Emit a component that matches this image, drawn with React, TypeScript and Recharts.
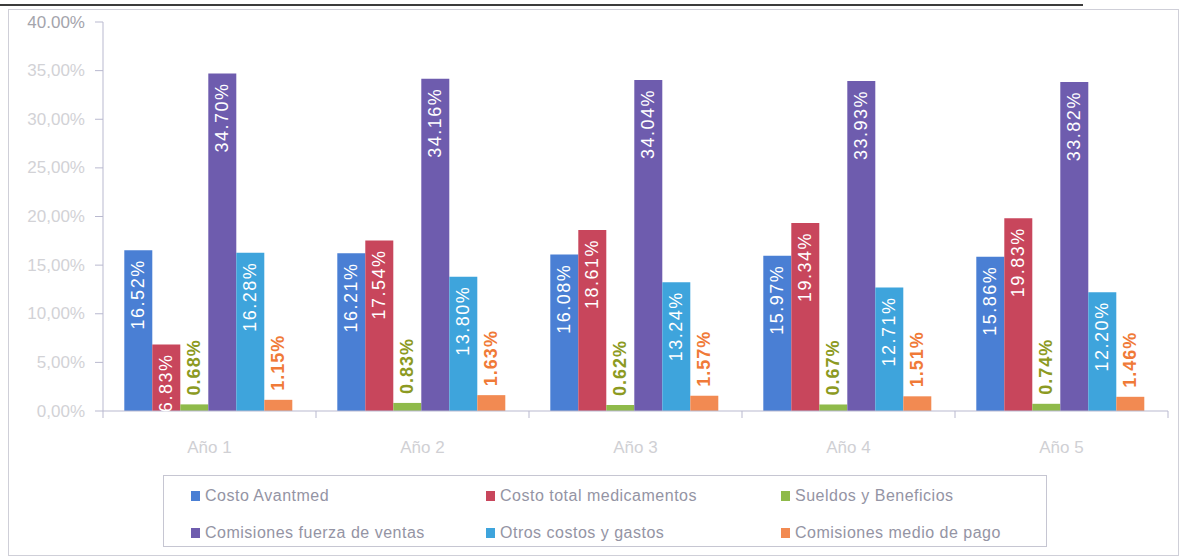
import React from "react";
import { Bar, BarChart, LabelList, Legend, XAxis, YAxis } from "recharts";

const YEARS = ["Año 1", "Año 2", "Año 3", "Año 4", "Año 5"];

const COSTO_AVANTMED = [16.52, 16.21, 16.08, 15.97, 15.86];
const COSTO_MEDICAMENTOS = [6.83, 17.54, 18.61, 19.34, 19.83];
const SUELDOS = [0.68, 0.83, 0.62, 0.67, 0.74];
const COMISIONES_VENTAS = [34.7, 34.16, 34.04, 33.93, 33.82];
const OTROS_COSTOS = [16.28, 13.8, 13.24, 12.71, 12.2];
const COMISIONES_PAGO = [1.15, 1.63, 1.57, 1.51, 1.46];

const Y_TICKS = [0, 5, 10, 15, 20, 25, 30, 35, 40];
const Y_TICK_LABELS = ["0,00%", "5,00%", "10,00%", "15,00%", "20,00%", "25,00%", "30,00%", "35,00%", "40.00%"];

const SERIES = [
  { key: "avantmed", name: "Costo Avantmed", values: COSTO_AVANTMED, color: "#4a7fd4", label: "inside" },
  { key: "medicamentos", name: "Costo total medicamentos", values: COSTO_MEDICAMENTOS, color: "#c8465c", label: "inside" },
  { key: "sueldos", name: "Sueldos y Beneficios", values: SUELDOS, color: "#8fba4a", label: "above", labelColor: "#8c9a22" },
  { key: "ventas", name: "Comisiones fuerza de ventas", values: COMISIONES_VENTAS, color: "#6e5cae", label: "inside" },
  { key: "otros", name: "Otros costos y gastos", values: OTROS_COSTOS, color: "#3ea4dc", label: "inside" },
  { key: "pago", name: "Comisiones medio de pago", values: COMISIONES_PAGO, color: "#f28a52", label: "above", labelColor: "#f07a38" }
];

const data = YEARS.map((year, i) => {
  const row: Record<string, string | number> = { year };
  SERIES.forEach((s) => (row[s.key] = s.values[i]));
  return row;
});

const W = 1183;
const H = 560;
const PLOT_LEFT = 103;
const PLOT_RIGHT = 1168;
const BAND = (PLOT_RIGHT - PLOT_LEFT) / YEARS.length;
const AXIS_COLOR = "#b9b9cf";
const LEGEND_H = 72;

const fmt = (v: number) => v.toFixed(2) + "%";

function makeLabel(mode: string, color?: string) {
  return (props: any) => {
    const { x, y, width, value } = props;
    const cx = x + width / 2;
    if (mode === "inside") {
      return (
        <text
          x={0}
          y={0}
          transform={`translate(${cx},${y + 9}) rotate(-90)`}
          textAnchor="end"
          dominantBaseline="central"
          fill="#ffffff"
          fontSize={18}
          letterSpacing={1.5}
          fontFamily="Liberation Sans, Arial, sans-serif"
        >
          {fmt(value)}
        </text>
      );
    }
    return (
      <text
        x={0}
        y={0}
        transform={`translate(${cx},${y - 9}) rotate(-90)`}
        textAnchor="start"
        dominantBaseline="central"
        fill={color}
        fontSize={18}
        fontWeight="bold"
        letterSpacing={1}
        fontFamily="Liberation Sans, Arial, sans-serif"
      >
        {fmt(value)}
      </text>
    );
  };
}

function YTick(props: any) {
  const { x, y, payload, index } = props;
  const top = payload.value === 40;
  return (
    <text
      x={x}
      y={y}
      textAnchor="end"
      dominantBaseline="central"
      fill={top ? "#a4a4ac" : "#d2d2d6"}
      fontSize={17}
      fontFamily="Liberation Sans, Arial, sans-serif"
    >
      {Y_TICK_LABELS[index]}
    </text>
  );
}

function XTick(props: any) {
  const { x, y, payload, index } = props;
  return (
    <g>
      <line x1={x - BAND / 2} y1={y} x2={x - BAND / 2} y2={y + 7} stroke={AXIS_COLOR} />
      {index === YEARS.length - 1 && (
        <line x1={x + BAND / 2} y1={y} x2={x + BAND / 2} y2={y + 7} stroke={AXIS_COLOR} />
      )}
      <text
        x={x}
        y={y + 36}
        textAnchor="middle"
        dominantBaseline="central"
        fill="#d0d0d4"
        fontSize={17}
        fontFamily="Liberation Sans, Arial, sans-serif"
      >
        {payload.value}
      </text>
    </g>
  );
}

function LegendBox() {
  return (
    <div
      style={{
        width: 884,
        height: LEGEND_H,
        border: "1px solid #c6c6d2",
        boxSizing: "border-box",
        display: "grid",
        gridTemplateColumns: "295px 295px 294px",
        gridTemplateRows: "37px 37px",
        paddingLeft: 27,
        paddingTop: 1,
        fontFamily: "Liberation Sans, Arial, sans-serif",
        fontSize: 16,
        color: "#9494a4",
        letterSpacing: 0.5,
        textAlign: "left"
      }}
    >
      {SERIES.map((s) => (
        <div key={s.key} style={{ display: "flex", alignItems: "center" }}>
          <span style={{ width: 9, height: 10, background: s.color, marginRight: 5, display: "inline-block" }} />
          <span>{s.name}</span>
        </div>
      ))}
    </div>
  );
}

export default function App() {
  return (
    <div style={{ position: "absolute", left: 0, top: 0, width: W, height: H, background: "#fff" }}>
      <div style={{ position: "absolute", left: 0, top: 4, width: 1083, height: 2, background: "#3c3c3c" }} />
      <div
        style={{
          position: "absolute",
          left: 8,
          top: 9,
          width: 1171,
          height: 547,
          border: "1px solid #cfcfd8",
          boxSizing: "border-box"
        }}
      />
      <div style={{ position: "absolute", left: 0, top: 0 }}>
        <BarChart
          width={W}
          height={H}
          data={data}
          margin={{ top: 22, right: W - PLOT_RIGHT, bottom: 109 - LEGEND_H, left: 23 }}
          barCategoryGap="10%"
          barGap={0}
        >
          <XAxis
            dataKey="year"
            height={40}
            tickLine={false}
            tickSize={0}
            tickMargin={0}
            axisLine={{ stroke: AXIS_COLOR }}
            tick={<XTick />}
            interval={0}
          />
          <YAxis
            width={80}
            domain={[0, 40]}
            ticks={Y_TICKS}
            tick={<YTick />}
            tickSize={8}
            tickMargin={10}
            tickLine={{ stroke: AXIS_COLOR }}
            axisLine={{ stroke: AXIS_COLOR }}
            interval={0}
          />
          <Legend
            content={<LegendBox />}
            wrapperStyle={{ position: "absolute", left: 163, top: 475, width: 884, height: LEGEND_H }}
          />
          {SERIES.map((s) => (
            <Bar key={s.key} dataKey={s.key} name={s.name} fill={s.color} isAnimationActive={false}>
              <LabelList dataKey={s.key} content={makeLabel(s.label, s.labelColor)} />
            </Bar>
          ))}
        </BarChart>
      </div>
    </div>
  );
}
